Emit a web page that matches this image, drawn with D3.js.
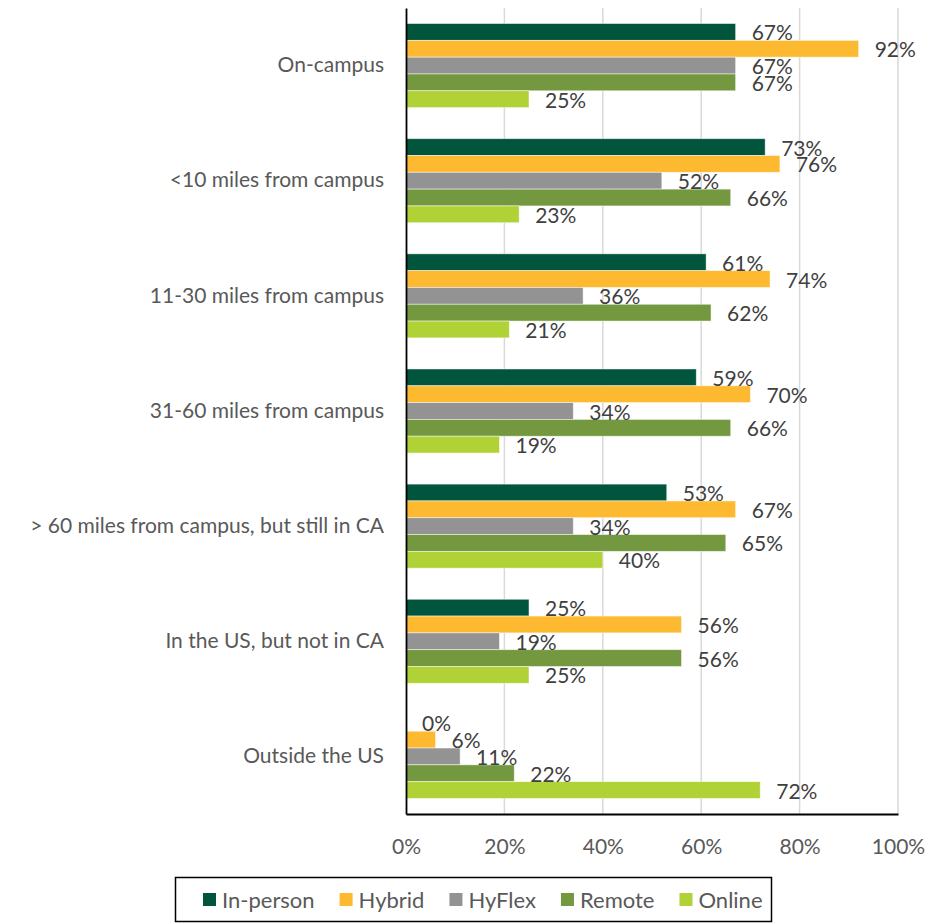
<!DOCTYPE html>
<html>
<head>
<meta charset="utf-8">
<script src="https://cdn.jsdelivr.net/npm/d3@7"></script>
<style>
  body { margin: 0; background: #fff; }
  text { font-family: Lato, "Open Sans", sans-serif; }
</style>
</head>
<body>
<div id="chart-area"></div>
<script>
const categories = [
  "On-campus",
  "<10 miles from campus",
  "11-30 miles from campus",
  "31-60 miles from campus",
  "> 60 miles from campus, but still in CA",
  "In the US, but not in CA",
  "Outside the US"
];
const seriesNames = ["In-person", "Hybrid", "HyFlex", "Remote", "Online"];
const seriesColors = ["#02553D", "#FDBA31", "#939393", "#73983F", "#B0D236"];
const inPerson = [67, 73, 61, 59, 53, 25, 0];
const hybrid   = [92, 76, 74, 70, 67, 56, 6];
const hyflex   = [67, 52, 36, 34, 34, 19, 11];
const remote   = [67, 66, 62, 66, 65, 56, 22];
const online   = [25, 23, 21, 19, 40, 25, 72];
const xTicks = [0, 20, 40, 60, 80, 100];

const seriesValues = [inPerson, hybrid, hyflex, remote, online];

const width = 928, height = 924;
const margin = { left: 406, right: 30, top: 8, bottom: 110 };

const svg = d3.select("#chart-area").append("svg")
    .attr("width", width)
    .attr("height", height);

const x = d3.scaleLinear()
    .domain([0, 100])
    .range([margin.left, width - margin.right]);

const y = d3.scaleBand()
    .domain(categories)
    .range([margin.top, height - margin.bottom])
    .paddingInner(0.27)
    .paddingOuter(0.135);

const ySub = d3.scaleBand()
    .domain(seriesNames)
    .range([0, y.bandwidth()]);

// gridlines
svg.append("g")
  .selectAll("line")
  .data(xTicks.slice(1))
  .enter().append("line")
    .attr("x1", d => x(d)).attr("x2", d => x(d))
    .attr("y1", margin.top).attr("y2", height - margin.bottom)
    .attr("stroke", "#d9d9d9")
    .attr("stroke-width", 1.5);

// bars
const rows = [];
categories.forEach((c, i) => {
  seriesNames.forEach((s, j) => {
    rows.push({ cat: c, series: s, color: seriesColors[j], value: seriesValues[j][i] });
  });
});

svg.append("g")
  .selectAll("rect")
  .data(rows.filter(d => d.value > 0))
  .enter().append("rect")
    .attr("x", x(0))
    .attr("y", d => y(d.cat) + ySub(d.series))
    .attr("width", d => x(d.value) - x(0))
    .attr("height", ySub.bandwidth())
    .attr("fill", d => d.color)
    .attr("stroke", "#ffffff")
    .attr("stroke-opacity", 0.6)
    .attr("stroke-width", 0.8);

// data labels
svg.append("g")
  .selectAll("text")
  .data(rows)
  .enter().append("text")
    .attr("x", d => x(d.value) + 16)
    .attr("y", d => y(d.cat) + ySub(d.series) + ySub.bandwidth() / 2 + 8.5)
    .attr("font-size", "21px")
    .attr("fill", "#404040")
    .text(d => d.value + "%");

// x axis
const xAxis = svg.append("g")
    .attr("transform", `translate(0, ${height - margin.bottom})`)
    .call(d3.axisBottom(x).tickValues(xTicks).tickSize(0).tickPadding(25).tickFormat(d => d + "%"));
xAxis.select(".domain").attr("stroke", "#000").attr("stroke-width", 1.8);
xAxis.selectAll("text")
    .attr("font-size", "21px")
    .attr("fill", "#595959")
    .attr("font-family", "Lato, 'Open Sans', sans-serif");

// y axis
const yAxis = svg.append("g")
    .attr("transform", `translate(${margin.left}, 0)`)
    .call(d3.axisLeft(y).tickSize(0).tickPadding(22));
yAxis.select(".domain").attr("stroke", "#000").attr("stroke-width", 1.8);
yAxis.selectAll("text")
    .attr("font-size", "21px")
    .attr("fill", "#595959")
    .attr("font-family", "Lato, 'Open Sans', sans-serif");

// legend
const legend = svg.append("g");
legend.append("rect")
    .attr("x", 175.5).attr("y", 877.5)
    .attr("width", 596).attr("height", 44)
    .attr("fill", "#fff")
    .attr("stroke", "#000")
    .attr("stroke-width", 1.5);

let lx = 203;
seriesNames.forEach((s, j) => {
  legend.append("rect")
      .attr("x", lx).attr("y", 893)
      .attr("width", 13).attr("height", 13)
      .attr("fill", seriesColors[j]);
  const t = legend.append("text")
      .attr("x", lx + 19).attr("y", 907.5)
      .attr("font-size", "22px")
      .attr("fill", "#595959")
      .text(s);
  lx += 19 + t.node().getComputedTextLength() + 25;
});
</script>
</body>
</html>
